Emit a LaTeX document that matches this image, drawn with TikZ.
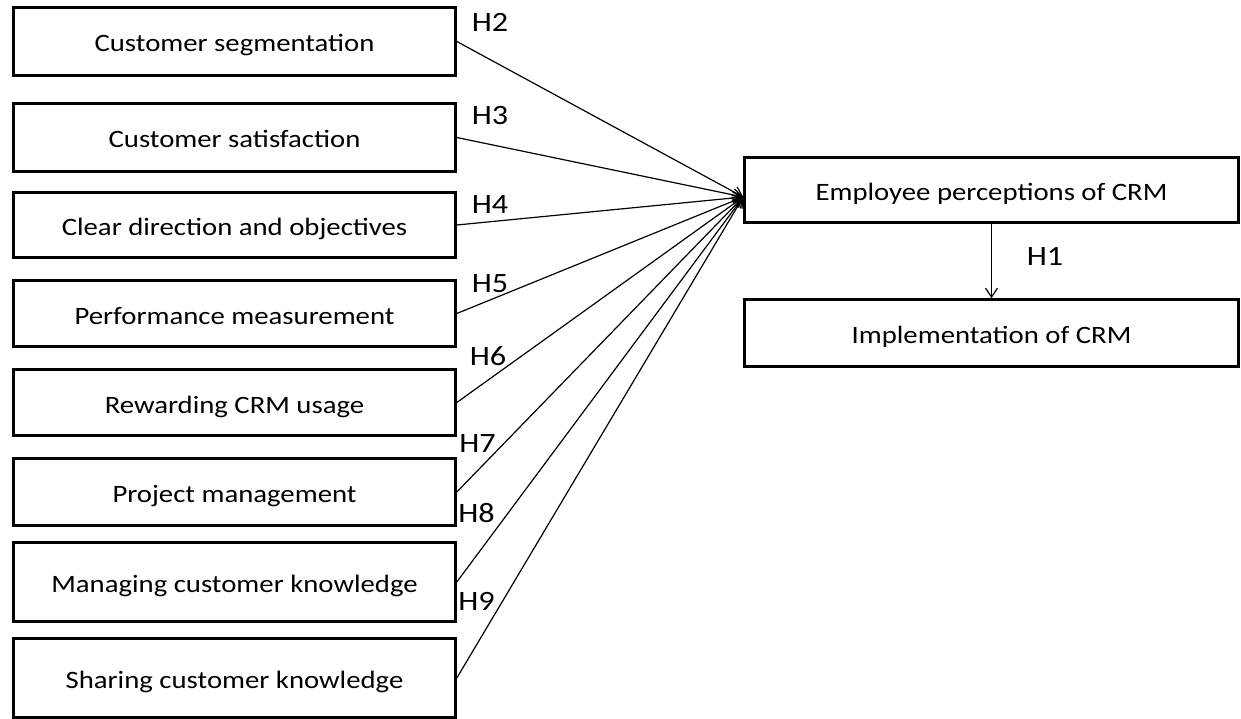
\documentclass[tikz,border=0pt]{standalone}
\usepackage{fontspec}
\setmainfont{Carlito}[FakeStretch=1.15]
\usetikzlibrary{arrows.meta}

\begin{document}
\begin{tikzpicture}[
  x = 1pt, y = -1pt,
  factor/.style = {draw, line width = 2.6pt, minimum width = 442pt, inner sep = 0pt,
                   text height = 21pt, text depth = 0pt,
                   font = \fontsize{25}{30}\selectfont},
  outcome/.style = {factor, minimum width = 494pt},
  hyp/.style = {inner sep = 0pt, font = \fontsize{28}{32}\selectfont},
  link/.style = {line width = 1.2pt, -{Straight Barb[length = 9pt, width = 12pt]}}
  ]
  \useasboundingbox (0,0) rectangle (1241,719);

  % antecedents
  \node[factor, minimum height = 68pt] (seg)   at (234.5, 41.5)  {Customer segmentation};
  \node[factor, minimum height = 68pt] (sat)   at (234.5, 137.5) {Customer satisfaction};
  \node[factor, minimum height = 65pt] (dir)   at (234.5, 225)   {Clear direction and objectives};
  \node[factor, minimum height = 66pt] (perf)  at (234.5, 313.5) {Performance measurement};
  \node[factor, minimum height = 66pt] (rew)   at (234.5, 402.5) {Rewarding CRM usage};
  \node[factor, minimum height = 67pt] (proj)  at (234.5, 492)   {Project management};
  \node[factor, minimum height = 79pt] (man)   at (234.5, 582)   {Managing customer knowledge};
  \node[factor, minimum height = 79pt] (share) at (234.5, 678)   {Sharing customer knowledge};

  % outcomes
  \node[outcome, minimum height = 65pt] (emp)  at (991.5, 190) {Employee perceptions of CRM};
  \node[outcome, minimum height = 67pt] (impl) at (991.5, 333) {Implementation of CRM};

  \coordinate (hub) at ([yshift = -7pt]emp.west);
  \foreach \n in {seg, sat, dir, perf, rew, proj, man, share}
    \draw[link] (\n.east) -- (hub);
  \draw[link] (emp.south) -- (impl.north);

  % hypotheses
  \node[hyp] (h1) at (1045, 256)   {H1};
  \node[hyp] (h2) at (490, 22)     {H2};
  \node[hyp] (h3) at (490, 115.5)  {H3};
  \node[hyp] (h4) at (490, 205)    {H4};
  \node[hyp] (h5) at (490, 283.5)  {H5};
  \node[hyp] (h6) at (488, 356)    {H6};
  \node[hyp] (h7) at (477.5, 443.5) {H7};
  \node[hyp] (h8) at (476.5, 513.5) {H8};
  \node[hyp] (h9) at (476.5, 601)   {H9};
\end{tikzpicture}
\end{document}
